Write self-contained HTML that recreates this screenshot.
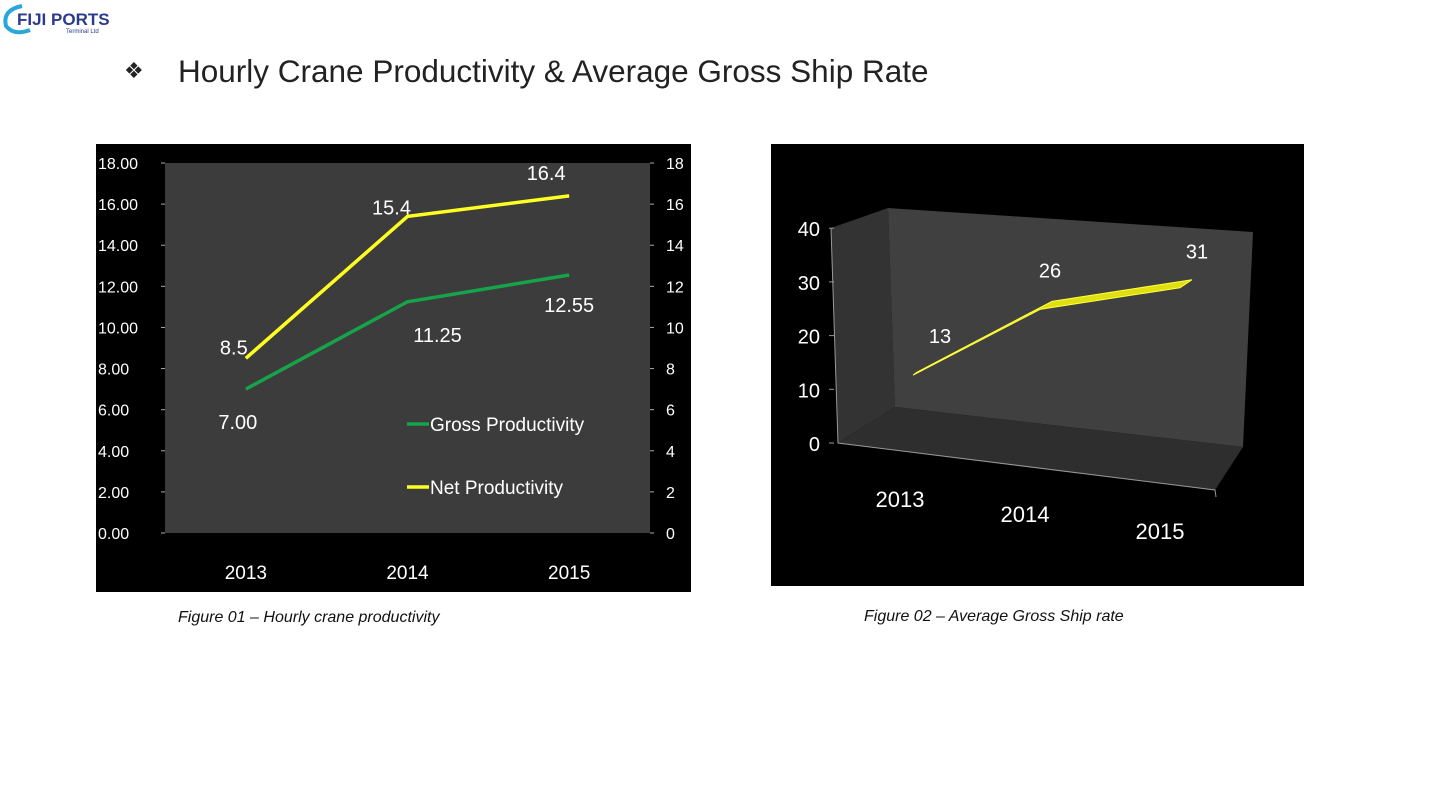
<!DOCTYPE html>
<html><head><meta charset="utf-8"><style>
body{margin:0;width:1440px;height:810px;background:#fff;position:relative;overflow:hidden;font-family:"Liberation Sans",sans-serif}
.t{position:absolute}
</style></head><body>
<div class="t" style="left:0;top:0;width:130px;height:40px">
<svg width="130" height="40"><path d="M22 6 Q2 10 6 26 Q14 36 30 30" stroke="#2aa7d8" stroke-width="4" fill="none"/>
<text x="17" y="25" font-size="17" font-weight="bold" fill="#2b3990">FIJI PORTS</text>
<text x="66" y="33" font-size="6" fill="#2b3990">Terminal Ltd</text></svg></div>
<div class="t" style="left:124px;top:58px;font-size:22px;color:#222">❖</div>
<div class="t" style="left:178px;top:53px;font-size:31.5px;color:#222;white-space:nowrap">Hourly Crane Productivity &amp; Average Gross Ship Rate</div>

<svg id="c1" class="t" style="left:96px;top:144px" width="595" height="448"></svg>
<svg id="c2" class="t" style="left:771px;top:144px" width="533" height="442"></svg>

<div class="t" style="left:178px;top:609px;font-size:16px;font-style:italic;color:#111">Figure 01 – Hourly crane productivity</div>
<div class="t" style="left:864px;top:608px;font-size:16px;font-style:italic;color:#111">Figure 02 – Average Gross Ship rate</div>

<script>
const years=["2013","2014","2015"];
const gross=[7.00,11.25,12.55];
const net=[8.5,15.4,16.4];
const grossLabels=["7.00","11.25","12.55"];
const netLabels=["8.5","15.4","16.4"];
const leftTicks=["0.00","2.00","4.00","6.00","8.00","10.00","12.00","14.00","16.00","18.00"];
const rightTicks=["0","2","4","6","8","10","12","14","16","18"];
const shipRate=[13,26,31];
const shipTicks=["0","10","20","30","40"];
const NS="http://www.w3.org/2000/svg";
function mk(p,tag,a,txt){const e=document.createElementNS(NS,tag);for(const k in a)e.setAttribute(k,a[k]);if(txt!==undefined)e.textContent=txt;p.appendChild(e);return e;}
const c1=document.getElementById('c1');
mk(c1,'rect',{x:0,y:0,width:595,height:448,fill:'#000'});
const L=69,R=554,T=19,B=389;
mk(c1,'rect',{x:L,y:T,width:R-L,height:B-T,fill:'#3c3c3c'});
const y1=v=>B-v/18*(B-T), x1=i=>L+(i+0.5)*(R-L)/3;
leftTicks.forEach((t,i)=>{const y=y1(i*2);
 let e=mk(c1,'text',{x:2,y:y+6,'font-size':16,fill:'#fff'},t);
 
 
 mk(c1,'line',{x1:L-4,x2:L,y1:y,y2:y,stroke:'#aaa'});
});
rightTicks.forEach((t,i)=>{const y=y1(i*2);
 let e=mk(c1,'text',{x:570,y:y+6,'font-size':16,fill:'#fff'},t);
 
 
 mk(c1,'line',{x1:R,x2:R+4,y1:y,y2:y,stroke:'#aaa'});
});
years.forEach((t,i)=>{let e=mk(c1,'text',{x:x1(i),y:435,'font-size':19,fill:'#fff','text-anchor':'middle'},t);
 
 });
let gl=mk(c1,'polyline',{points:gross.map((v,i)=>x1(i)+','+y1(v)).join(' '),fill:'none',stroke:'#16a34a','stroke-width':3.5});


let nl=mk(c1,'polyline',{points:net.map((v,i)=>x1(i)+','+y1(v)).join(' '),fill:'none',stroke:'#ffff22','stroke-width':3.5});


const gdx=[-8,30,0],gdy=[40,40,37],ndx=[-12,-16,-23],ndy=[-4,-2,-16];
gross.forEach((v,i)=>{let e=mk(c1,'text',{x:x1(i)+gdx[i],y:y1(v)+gdy[i],'font-size':20,fill:'#fff','text-anchor':'middle'},grossLabels[i]);
 
 });
net.forEach((v,i)=>{let e=mk(c1,'text',{x:x1(i)+ndx[i],y:y1(v)+ndy[i],'font-size':20,fill:'#fff','text-anchor':'middle'},netLabels[i]);
 
 });
mk(c1,'line',{x1:311,x2:333,y1:280,y2:280,stroke:'#16a34a','stroke-width':3.5});
let lg=mk(c1,'text',{x:334,y:287,'font-size':19,fill:'#fff'},'Gross Productivity');


mk(c1,'line',{x1:311,x2:333,y1:343,y2:343,stroke:'#ffff22','stroke-width':3.5});
let ln=mk(c1,'text',{x:334,y:350,'font-size':19,fill:'#fff'},'Net Productivity');



const c2=document.getElementById('c2');const ox=771,oy=144;
mk(c2,'rect',{x:0,y:0,width:533,height:442,fill:'#000'});
const P=a=>a.map(p=>(p[0]-ox)+','+(p[1]-oy)).join(' ');
mk(c2,'polygon',{points:P([[831,228],[888,208],[895,407],[838,443]]),fill:'#333'});
mk(c2,'polygon',{points:P([[888,208],[1253,232],[1243,447],[895,407]]),fill:'#404040'});
mk(c2,'polygon',{points:P([[838,443],[895,407],[1243,447],[1215,490]]),fill:'#2e2e2e'});
mk(c2,'polyline',{points:P([[831,228],[838,443],[1215,490],[1216,497]]),fill:'none',stroke:'#999','stroke-width':1});
const y2=(v,x)=>443-v*5.45+(x-838)*0.04;
shipTicks.forEach((t,i)=>{const v=i*10,y=443-v*5.37;
 mk(c2,'line',{x1:829-ox,x2:834-ox,y1:y-oy,y2:y-oy,stroke:'#999'});
 let e=mk(c2,'text',{x:820-ox,y:y-oy+8,'font-size':20,fill:'#fff','text-anchor':'end'},t);
 
 });
const xs2=[913,1040,1180],xl=[900,1025,1160],yl=[507,522,539];
years.forEach((t,i)=>{let e=mk(c2,'text',{x:xl[i]-ox,y:yl[i]-oy,'font-size':22,fill:'#fff','text-anchor':'middle'},t);
 
 });
const ribTop=shipRate.map((v,i)=>[xs2[i]+(i?12:4),y2(v,xs2[i])-(i?8:3)]);
const ribBot=shipRate.map((v,i)=>[xs2[i],y2(v,xs2[i])]);
let rb=mk(c2,'polygon',{points:P(ribBot.concat(ribTop.slice().reverse())),fill:'#e0e010',stroke:'#ffff40','stroke-width':1});


const ldx=[27,10,17],ldy=[-32,-32,-29];
shipRate.forEach((v,i)=>{let e=mk(c2,'text',{x:xs2[i]+ldx[i]-ox,y:y2(v,xs2[i])+ldy[i]-oy,'font-size':20,fill:'#fff','text-anchor':'middle'},String(v));
 
 });
</script>
</body></html>
